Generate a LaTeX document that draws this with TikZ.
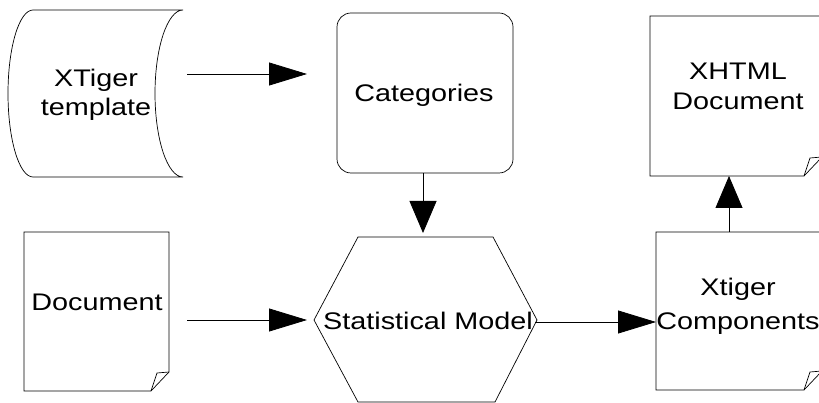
\documentclass[tikz,border=0pt]{standalone}
\usepackage{fontspec}
\newfontfamily\lab{Liberation Sans}[FakeStretch=1.2]
\usetikzlibrary{arrows.meta}
\begin{document}
\begin{tikzpicture}[x=1pt,y=-1pt,
  shp/.style={draw=black, line width=0.7pt},
  hold/.style={inner sep=0pt, outer sep=0pt},
  txt/.style={font=\lab\fontsize{24}{28.5}\selectfont, inner sep=0pt, align=center},
  harr/.style={line width=0.8pt, -{Triangle[length=38pt,width=23pt]}},
  varr/.style={line width=0.8pt, -{Triangle[length=32pt,width=27pt]}},
]
\useasboundingbox (0,0) rectangle (819,403);
\clip (0,0) rectangle (819,403);
% holder nodes
\node[hold, minimum width=175pt, minimum height=167pt] (tmpl) at (95.5,93.5) {};
\node[hold, minimum width=176pt, minimum height=160pt] (cat) at (425,93) {};
\node[hold, minimum width=145pt, minimum height=159pt] (doc) at (96.5,311.5) {};
\node[hold, minimum width=223pt, minimum height=166pt] (hex) at (425.5,320) {};
\node[hold, minimum width=172pt, minimum height=160pt] (xhtml) at (736,96) {};
\node[hold, minimum width=166pt, minimum height=158pt] (xtc) at (739,311) {};
% shapes
\draw[shp] (33,10) -- (183,10) arc[start angle=270, end angle=90, x radius=28, y radius=83.5]
  -- (33,177) arc[start angle=90, end angle=270, x radius=25, y radius=83.5] -- cycle;
\draw[shp, rounded corners=14pt] (337,13) rectangle (513,173);
\draw[shp] (24,232) -- (169,232) -- (169,372) -- (151,391) -- (24,391) -- cycle;
\draw[shp] (151,391) -- (157,373) -- (169,372);
\draw[shp] (358,237) -- (493,237) -- (537,320) -- (495,402) -- (358,402) -- (314,320) -- cycle;
\draw[shp] (650,16) -- (822,16) -- (822,157) -- (804,176) -- (650,176) -- cycle;
\draw[shp] (804,176) -- (810,158) -- (822,157);
\draw[shp] (656,232) -- (822,232) -- (822,371) -- (804,390) -- (656,390) -- cycle;
\draw[shp] (804,390) -- (810,372) -- (822,371);
% texts
\node[txt] (tmplT) at (96,94.8) {XTiger\\template};
\node[txt, anchor=base] (catT) at (424,102) {Categories};
\node[txt, anchor=base] (docT) at (97,310) {Document};
\node[txt, anchor=base] (hexT) at (428,330) {Statistical Model};
\node[txt, font=\lab\fontsize{24}{30}\selectfont] (xhtmlT) at (738,86.4) {XHTML\\Document};
\node[txt, font=\lab\fontsize{24}{34}\selectfont] (xtcT) at (738,306) {Xtiger\\Components};
% connectors
\draw[harr] ([xshift=4pt,yshift=19.5pt]tmpl.east) -- ([xshift=-30pt,yshift=19pt]cat.west);
\draw[varr] ([xshift=-2pt]cat.south) -- ([xshift=-2.5pt,yshift=4pt]hex.north);
\draw[harr] ([xshift=18pt,yshift=-8.5pt]doc.east) -- ([xshift=-7pt]hex.west);
\draw[harr] ([xshift=-2pt,yshift=-2pt]hex.east) -- ([yshift=-11pt]xtc.west);
\draw[varr] ([xshift=-10pt]xtc.north) -- ([xshift=-7pt]xhtml.south);
\end{tikzpicture}
\end{document}
